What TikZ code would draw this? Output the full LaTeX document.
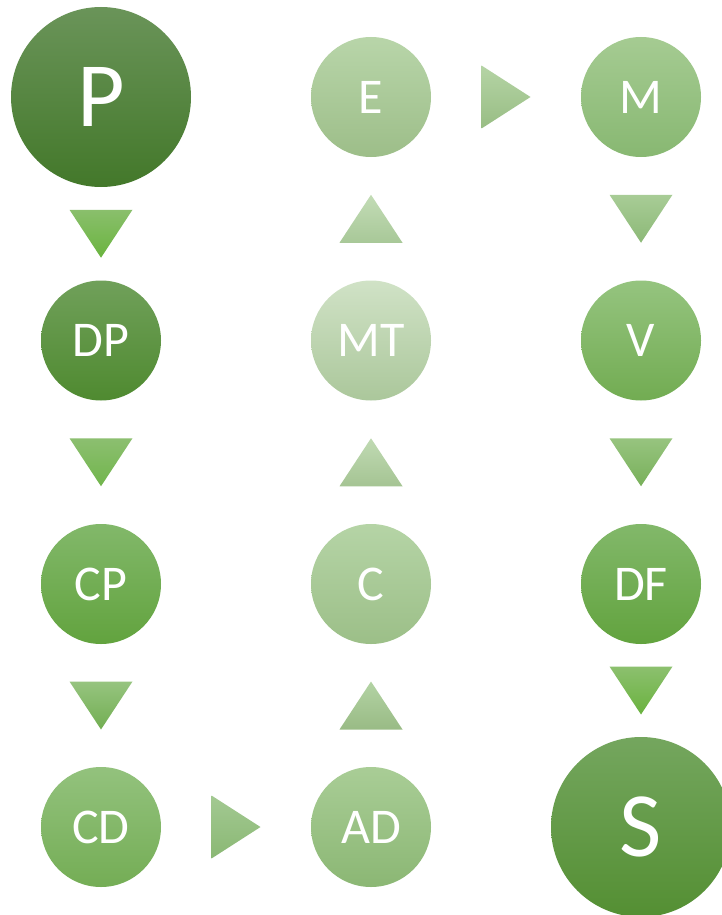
\documentclass[tikz,border=0pt]{standalone}
\usepackage{fontspec}
\setmainfont{Carlito}
\usetikzlibrary{calc}
\newcommand\tridown[3]{%
  \coordinate (m) at ($(#1.south)!0.5!(#2.north)$);
  \path[#3] ($(m)+(-31.5,-24)$) -- ($(m)+(31.5,-24)$) -- ($(m)+(0,24)$) -- cycle;}
\newcommand\triup[3]{%
  \coordinate (m) at ($(#1.north)!0.5!(#2.south)$);
  \path[#3] ($(m)+(-31.5,24)$) -- ($(m)+(31.5,24)$) -- ($(m)+(0,-24)$) -- cycle;}
\newcommand\triright[3]{%
  \coordinate (m) at ($(#1.east)!0.5!(#2.west)$);
  \path[#3] ($(m)+(-24.5,-31.5)$) -- ($(m)+(-24.5,31.5)$) -- ($(m)+(24.5,0)$) -- cycle;}
\begin{document}
\begin{tikzpicture}[x=1pt,y=-1pt,
  circ/.style={circle, inner sep=0pt, minimum size=120pt, text=white,
    font=\fontsize{50}{50}\selectfont},
  big/.style={circ, minimum size=180pt, font=\fontsize{92}{92}\selectfont},
  sh/.style 2 args={/utils/exec={\definecolor{c#1}{HTML}{#1}\definecolor{c#2}{HTML}{#2}},
    top color=c#1, bottom color=c#2, draw=none},
]
\useasboundingbox (0,0) rectangle (722,915);
\clip (0,0) rectangle (722,915);
% circles
\node[big, sh={6A9459}{43782A}] (P) at (101,97) {P};
\node[circ, sh={70A05A}{4F8A30}] (DP) at (101,340.5) {DP};
\node[circ, sh={82B86A}{62A33E}] (CP) at (101,584) {CP};
\node[circ, sh={93C27D}{74AD55}] (CD) at (101,827) {CD};
\node[circ, sh={A9CD96}{8BB774}] (AD) at (371,827) {AD};
\node[circ, sh={B5D4A6}{9CBF88}] (C) at (371,584) {C};
\node[circ, sh={D0E2C6}{ABC79B}] (MT) at (371,340.5) {MT};
\node[circ, sh={B8D5A9}{9DBE89}] (E) at (371,97) {E};
\node[circ, sh={A5CB92}{88B872}] (M) at (641,97) {M};
\node[circ, sh={95C47F}{72AC52}] (V) at (641,340.5) {V};
\node[circ, sh={82B86A}{62A33E}] (DF) at (641,584) {DF};
\node[big, sh={74A65E}{548F33}] (S) at (641,827) {S};
% arrows
\tridown{P}{DP}{sh={8ABF6C}{6AB43F}}
\tridown{DP}{CP}{sh={8CBF70}{71B54C}}
\tridown{CP}{CD}{sh={96C47F}{72AE52}}
\triright{CD}{AD}{sh={A3C992}{8AB874}}
\triup{AD}{C}{sh={B3D3A4}{99BB85}}
\triup{C}{MT}{sh={C0DAB3}{A5C493}}
\triup{MT}{E}{sh={C3DCB6}{A8C898}}
\triright{E}{M}{sh={B5D4A5}{98BD84}}
\tridown{M}{V}{sh={A8CC96}{8CB977}}
\tridown{V}{DF}{sh={97C47F}{78B05A}}
\tridown{DF}{S}{sh={8CC06E}{6AB23F}}
\end{tikzpicture}
\end{document}
